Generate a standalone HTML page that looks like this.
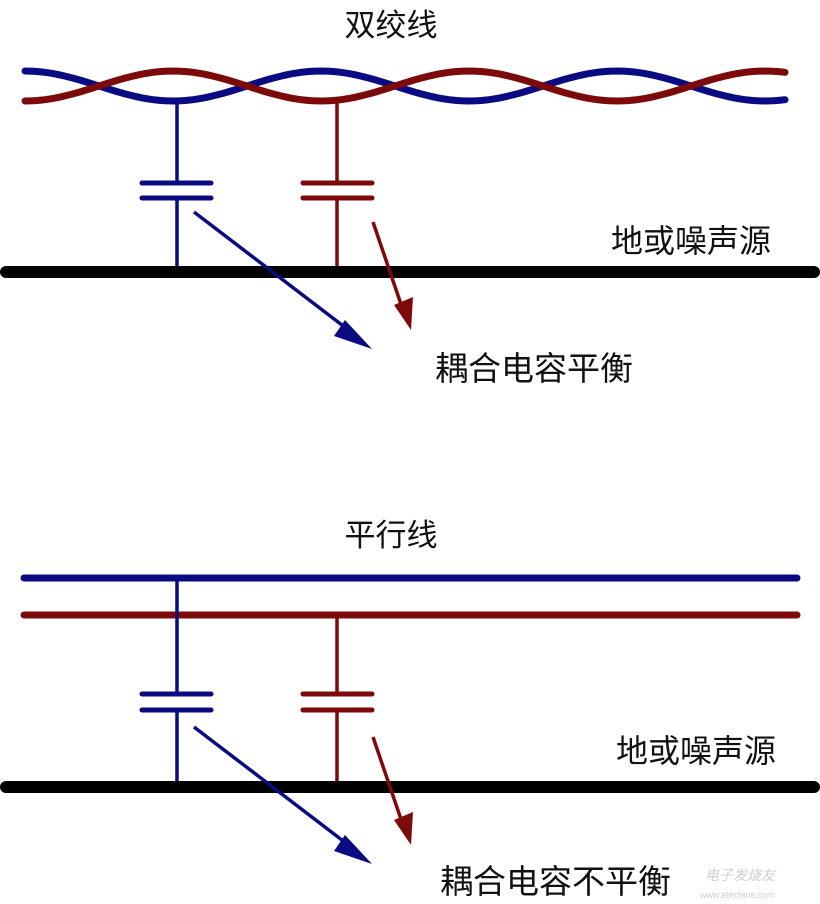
<!DOCTYPE html>
<html><head><meta charset="utf-8"><style>
html,body{margin:0;padding:0;background:#fff;}
svg{display:block;}
text{font-family:"Liberation Sans","Noto Sans CJK SC",sans-serif;fill:#111;}
</style></head><body>
<svg width="820" height="904" viewBox="0 0 820 904" xmlns="http://www.w3.org/2000/svg">
<text x="391" y="36" font-size="31" text-anchor="middle">双绞线</text>
<path id="blue" fill="none" stroke="#0a0a82" stroke-width="7" stroke-linecap="round" d=""/>
<path id="red" fill="none" stroke="#7d0a0a" stroke-width="7" stroke-linecap="round" d=""/>
<script>
function wave(sign){var d="";for(var x=25;x<=785;x+=4){var y=86-sign*15*Math.cos(Math.PI*(x-25)/148);d+=(x==25?"M":"L")+x+","+y.toFixed(1);}return d;}
document.getElementById("blue").setAttribute("d",wave(1));
document.getElementById("red").setAttribute("d",wave(-1));
</script>
<g stroke-width="3.5" fill="none" stroke-linecap="round">
<line x1="177" y1="100" x2="177" y2="183" stroke="#0a0a82"/>
<line x1="142" y1="183" x2="211" y2="183" stroke="#0a0a82" stroke-width="5"/>
<line x1="142" y1="198" x2="211" y2="198" stroke="#0a0a82" stroke-width="5"/>
<line x1="177" y1="198" x2="177" y2="272" stroke="#0a0a82"/>
<line x1="337" y1="100" x2="337" y2="183" stroke="#7d0a0a"/>
<line x1="303" y1="183" x2="372" y2="183" stroke="#7d0a0a" stroke-width="5"/>
<line x1="303" y1="198" x2="372" y2="198" stroke="#7d0a0a" stroke-width="5"/>
<line x1="337" y1="198" x2="337" y2="272" stroke="#7d0a0a"/>
</g>
<line x1="6" y1="272" x2="814" y2="272" stroke="#000" stroke-width="12" stroke-linecap="round"/>
<line x1="194" y1="212" x2="355" y2="335" stroke="#0a0a82" stroke-width="3.5"/>
<path d="M345,320 L372,349 L334,336 z" fill="#0a0a82"/>
<line x1="373" y1="222" x2="405" y2="316" stroke="#7d0a0a" stroke-width="3.5"/>
<path d="M394,305 L411,330 L413,297 z" fill="#7d0a0a"/>
<text x="611" y="252" font-size="32">地或噪声源</text>
<text x="435" y="380" font-size="33">耦合电容平衡</text>

<text x="391" y="546" font-size="31" text-anchor="middle">平行线</text>
<line x1="24" y1="578" x2="797" y2="578" stroke="#0a0a82" stroke-width="7" stroke-linecap="round"/>
<line x1="24" y1="615" x2="797" y2="615" stroke="#7d0a0a" stroke-width="7" stroke-linecap="round"/>
<g stroke-width="3.5" fill="none" stroke-linecap="round">
<line x1="177" y1="578" x2="177" y2="694" stroke="#0a0a82"/>
<line x1="142" y1="694" x2="211" y2="694" stroke="#0a0a82" stroke-width="5"/>
<line x1="142" y1="710" x2="211" y2="710" stroke="#0a0a82" stroke-width="5"/>
<line x1="177" y1="710" x2="177" y2="787" stroke="#0a0a82"/>
<line x1="337" y1="615" x2="337" y2="694" stroke="#7d0a0a"/>
<line x1="303" y1="694" x2="372" y2="694" stroke="#7d0a0a" stroke-width="5"/>
<line x1="303" y1="710" x2="372" y2="710" stroke="#7d0a0a" stroke-width="5"/>
<line x1="337" y1="710" x2="337" y2="787" stroke="#7d0a0a"/>
</g>
<line x1="6" y1="787" x2="814" y2="787" stroke="#000" stroke-width="12" stroke-linecap="round"/>
<line x1="194" y1="727" x2="355" y2="850" stroke="#0a0a82" stroke-width="3.5"/>
<path d="M345,835 L372,864 L334,851 z" fill="#0a0a82"/>
<line x1="373" y1="737" x2="405" y2="831" stroke="#7d0a0a" stroke-width="3.5"/>
<path d="M394,820 L411,845 L413,812 z" fill="#7d0a0a"/>
<text x="616" y="762" font-size="32">地或噪声源</text>
<text x="440" y="893" font-size="33">耦合电容不平衡</text>
<text x="705" y="880" font-size="14" style="fill:#d0d0d0;font-style:italic">电子发烧友</text>
<text x="700" y="898" font-size="9" style="fill:#d0d0d0">www.elecfans.com</text>
</svg>
</body></html>
